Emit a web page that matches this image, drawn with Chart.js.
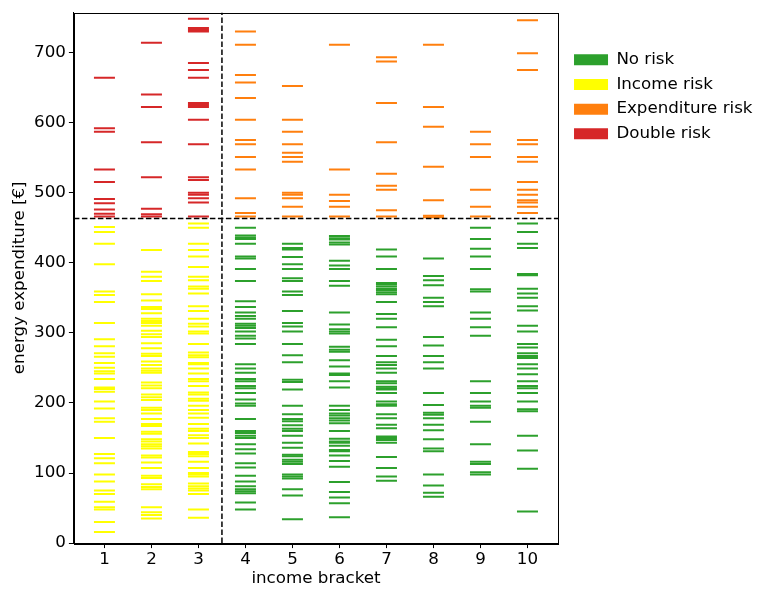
<!DOCTYPE html>
<html>
<head>
<meta charset="utf-8">
<script src="https://cdn.jsdelivr.net/npm/chart.js@4.4.0/dist/chart.umd.min.js"></script>
<style>
html,body{margin:0;padding:0;background:#fff;}
#wrap{width:763px;height:594px;}
</style>
</head>
<body>
<div id="wrap"><canvas id="c" width="763" height="594"></canvas></div>
<script>
// ---- data ----
const brackets = [1, 2, 3, 4, 5, 6, 7, 8, 9, 10];
const xTicks = [1, 2, 3, 4, 5, 6, 7, 8, 9, 10];
const yTicks = [0, 100, 200, 300, 400, 500, 600, 700];
const expenditureThreshold = 463;   // horizontal dashed line
const incomeSplit = 3.5;            // vertical dashed line
const lowIncomeBrackets = [1, 2, 3];
const riskLabels = ['No risk', 'Income risk', 'Expenditure risk', 'Double risk'];
const riskColors = ['#2ca02c', '#ffff00', '#ff7f0e', '#d62728'];

const bracket1 = [664, 592, 587, 533, 515, 491, 485, 476, 470, 466,
  451, 444, 427, 398, 359, 354, 344, 314, 291, 281, 271, 266, 257, 250, 245, 242, 234, 222, 220, 216,
  202, 192, 178, 173, 150, 127, 121, 114, 98, 88, 75, 70, 59, 51, 48, 30, 16];
const bracket2 = [714, 640, 622, 572, 522, 477, 469, 466,
  418, 387, 380, 374, 355, 346, 337, 334, 328, 320, 317, 314, 310, 303, 298, 294, 285, 278, 270, 267,
  259, 254, 249, 246, 243, 229, 225, 221, 212, 208, 204, 193, 190, 185, 177, 170, 167, 159, 156, 148,
  145, 141, 138, 135, 125, 122, 115, 107, 96, 93, 84, 80, 77, 51, 44, 40, 35];
const bracket3 = [748, 735, 732, 730, 685, 675, 664, 628, 625, 622, 604, 569, 522, 518, 500, 497, 492, 486, 466,
  456, 450, 427, 418, 409, 394, 380, 375, 366, 363, 356, 338, 331, 320, 313, 309, 302, 299, 284, 272,
  268, 265, 257, 255, 249, 242, 234, 231, 224, 215, 212, 206, 203, 196, 190, 185, 179, 170, 163, 160,
  154, 150, 142, 130, 127, 124, 116, 107, 100, 98, 95, 85, 81, 78, 75, 70, 48, 36];
const bracket4 = [730, 711, 668, 657, 635, 604, 575, 569, 551, 533, 492, 471, 466,
  450, 439, 436, 434, 427, 409, 406, 391, 374, 345, 337, 329, 324, 320, 313, 310, 307, 302, 296, 292,
  284, 255, 249, 243, 234, 231, 224, 221, 214, 205, 199, 196, 177, 160, 157, 153, 150, 141, 134, 128,
  114, 108, 96, 88, 81, 77, 74, 71, 58, 48];
const bracket5 = [652, 604, 587, 569, 557, 551, 544, 500, 497, 492, 480, 466,
  427, 421, 419, 408, 398, 391, 378, 374, 359, 354, 331, 314, 309, 302, 284, 268, 258, 233, 230, 219,
  196, 184, 177, 174, 168, 163, 160, 153, 143, 136, 126, 124, 119, 116, 113, 98, 95, 92, 77, 68, 34];
const bracket6 = [711, 533, 497, 488, 480, 466,
  438, 435, 433, 429, 426, 403, 396, 391, 374, 367, 329, 312, 305, 302, 299, 280, 276, 273, 261, 252,
  242, 240, 231, 222, 196, 190, 185, 182, 178, 175, 171, 160, 149, 145, 143, 139, 133, 131, 125, 117,
  109, 87, 73, 65, 57, 37];
const bracket7 = [693, 687, 628, 572, 527, 510, 504, 475, 466,
  419, 409, 391, 371, 369, 366, 363, 361, 358, 355, 344, 327, 320, 308, 290, 281, 267, 258, 254, 249,
  243, 231, 228, 223, 221, 219, 214, 202, 198, 196, 184, 178, 169, 164, 152, 150, 147, 143, 123, 107, 95, 89];
const bracket8 = [711, 622, 594, 537, 489, 467, 465,
  406, 381, 375, 368, 350, 344, 338, 294, 282, 267, 258, 249, 214, 197, 186, 183, 178, 169, 161, 148,
  135, 131, 98, 82, 72, 66];
const bracket9 = [587, 569, 551, 504, 480, 466,
  450, 434, 420, 409, 391, 362, 359, 329, 320, 308, 296, 231, 214, 202, 196, 193, 173, 141, 116, 113, 101, 98];
const bracket10 = [746, 699, 675, 575, 569, 551, 544, 515, 504, 497, 489, 486, 480, 471,
  456, 444, 427, 421, 384, 382, 363, 356, 350, 338, 332, 310, 302, 284, 279, 271, 267, 264, 255, 249,
  241, 231, 224, 221, 214, 202, 191, 188, 153, 132, 106, 45];

const bracketValues = [bracket1, bracket2, bracket3, bracket4, bracket5, bracket6, bracket7, bracket8, bracket9, bracket10];

// ---- classification into the four risk groups ----
const groups = [[], [], [], []];
brackets.forEach((b, i) => {
  const low = lowIncomeBrackets.includes(b);
  bracketValues[i].forEach(v => {
    const high = v > expenditureThreshold;
    let g;
    if (!low && !high) g = 0;
    else if (low && !high) g = 1;
    else if (!low && high) g = 2;
    else g = 3;
    groups[g].push({x: b, y: v});
  });
});

const xMin = 0.35, xMax = 10.65, yMin = 0, yMax = 757;
const FONT = 'DejaVu Sans';
const FS = 16.7;

const frame = {
  id: 'frame',
  afterDraw(chart) {
    const {ctx, chartArea: a} = chart;
    ctx.save();
    ctx.strokeStyle = '#000';
    ctx.lineWidth = 1;
    ctx.strokeRect(Math.round(a.left) + 0.5, Math.round(a.top) + 0.5, Math.round(a.right - a.left), Math.round(a.bottom - a.top));
    ctx.restore();
  }
};

const riskDatasets = groups.map((pts, g) => ({
  label: riskLabels[g],
  data: pts,
  pointStyle: 'line',
  pointRadius: 10.5,
  pointHoverRadius: 10.5,
  pointBorderWidth: 2,
  borderWidth: 2,
  borderColor: riskColors[g],
  backgroundColor: riskColors[g],
  showLine: false
}));

const chart = new Chart(document.getElementById('c'), {
  type: 'scatter',
  data: {
    datasets: [
      {
        type: 'line', label: 'threshold',
        data: [{x: xMin, y: expenditureThreshold}, {x: xMax, y: expenditureThreshold}],
        borderColor: '#000', borderWidth: 1.5, borderDash: [5.5, 2.5], pointRadius: 0, fill: false
      },
      {
        type: 'line', label: 'split',
        data: [{x: incomeSplit, y: yMin}, {x: incomeSplit, y: yMax}],
        borderColor: '#000', borderWidth: 1.5, borderDash: [5.5, 2.5], pointRadius: 0, fill: false
      },
      ...riskDatasets
    ]
  },
  options: {
    responsive: false,
    animation: false,
    devicePixelRatio: 1,
    layout: {padding: {left: 6, right: 0.5, top: 7, bottom: 2.5}},
    plugins: {
      tooltip: {enabled: false},
      legend: {
        position: 'right',
        align: 'start',
        maxWidth: 220,
        title: {display: true, text: ' ', padding: {top: 11, bottom: 11}, font: {family: FONT, size: 12}},
        labels: {
          boxWidth: 34, boxHeight: 11, padding: 8, color: '#000',
          font: {family: FONT, size: FS},
          generateLabels(chart) {
            const items = Chart.defaults.plugins.legend.labels.generateLabels(chart);
            return items.filter(it => it.datasetIndex >= 2).map(it => Object.assign({}, it, {lineWidth: 0}));
          }
        }
      }
    },
    scales: {
      x: {
        type: 'linear', min: xMin, max: xMax,
        afterBuildTicks: s => { s.ticks = xTicks.map(v => ({value: v})); },
        grid: {drawOnChartArea: false, drawTicks: true, tickLength: 5, color: '#000', lineWidth: 1},
        border: {display: true, color: '#000', width: 1},
        ticks: {color: '#000', font: {family: FONT, size: FS, lineHeight: 1.0}, padding: 3, maxRotation: 0, autoSkip: false},
        title: {display: true, text: 'income bracket', color: '#000', font: {family: FONT, size: FS, lineHeight: 1.0}, padding: {top: 0, bottom: 4}}
      },
      y: {
        type: 'linear', min: yMin, max: yMax,
        afterBuildTicks: s => { s.ticks = yTicks.map(v => ({value: v})); },
        grid: {drawOnChartArea: false, drawTicks: true, tickLength: 5, color: '#000', lineWidth: 1},
        border: {display: true, color: '#000', width: 1},
        ticks: {color: '#000', font: {family: FONT, size: FS, lineHeight: 0.8}, padding: 3, autoSkip: false},
        title: {display: true, text: 'energy expenditure [€]', color: '#000', font: {family: FONT, size: FS}, padding: {top: 4, bottom: 1}}
      },
      yRight: {
        type: 'linear', position: 'right', display: true, min: yMin, max: yMax,
        grid: {display: false, drawTicks: false},
        border: {display: false},
        ticks: {display: false},
        afterFit: s => { s.width = 8; }
      }
    }
  },
  plugins: [frame]
});
</script>
</body>
</html>
